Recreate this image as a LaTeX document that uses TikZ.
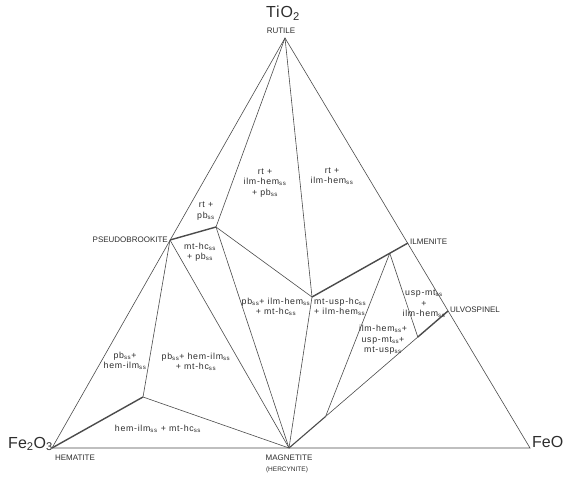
\documentclass[tikz,border=0pt]{standalone}
\usepackage{fontspec}
\setmainfont{Liberation Sans}
\newfontfamily\widefont[LetterSpace=8]{Liberation Sans}
\newfontfamily\oxfont[LetterSpace=6]{Liberation Sans}
\usetikzlibrary{calc}
\definecolor{linec}{RGB}{75,75,75}
\definecolor{textc}{RGB}{45,45,45}
\newcommand{\sS}{\textsubscript{ss}}
\begin{document}
\begin{tikzpicture}[x=1pt,y=-1pt,
  thinl/.style={draw=linec, line width=0.6pt},
  thickl/.style={draw=linec, line width=1.4pt},
  caplabel/.style={font=\fontsize{8}{9}\selectfont, text=textc, inner sep=0pt},
  smallcap/.style={font=\fontsize{6.5}{7}\selectfont, text=textc, inner sep=0pt},
  region/.style={font=\widefont\fontsize{8.8}{10.5}\selectfont, align=center, text=textc, inner sep=0pt},
  oxide/.style={font=\fontsize{16}{18}\selectfont, text=textc, inner sep=0pt}]
\useasboundingbox (0,0) rectangle (564,478);
% vertices and invariant points
\coordinate (T) at (285,38);
\coordinate (A) at (52,448);
\coordinate (F) at (530,448);
\coordinate (Mg) at (289,448);
\coordinate (Pb) at (170,240);
\coordinate (P1) at (216,227);
\coordinate (M) at (312,297);
\coordinate (Il) at (408,243);
\coordinate (Q) at ($(M)!0.81!(Il)$);
\coordinate (Usp) at (448,311);
\coordinate (S) at ($(Mg)!0.81!(Usp)$);
\coordinate (R) at ($(Mg)!0.23!(Usp)$);
\coordinate (H) at (143,397);
% main triangle
\draw[thinl] (A) -- (T) -- (F) -- cycle;
% tie lines
\draw[thinl] (T) -- (P1);
\draw[thinl] (T) -- (M);
\draw[thickl] (Pb) -- (P1);
\draw[thinl] (P1) -- (M);
\draw[thickl] (M) -- (Il);
\draw[thinl] (P1) -- (Mg);
\draw[thinl] (Pb) -- (Mg);
\draw[thinl] (Pb) -- (H);
\draw[thinl] (M) -- (Mg);
\draw[thickl] (A) -- (H);
\draw[thinl] (H) -- (Mg);
\draw[thinl] (Q) -- (R);
\draw[thinl] (Q) -- (S);
\draw[thinl] (R) -- (S);
\draw[line width=1.1pt, draw=linec] (Mg) -- (R);
\draw[thickl] (S) -- (Usp);
% corner labels
\node[oxide, font=\oxfont\fontsize{16}{18}\selectfont] (tio2) at (283,13) {TiO\textsubscript{2}};
\node[caplabel] (rutile) at (281,31) {RUTILE};
\node[oxide, anchor=east] (fe2o3) at (53,444) {Fe\textsubscript{2}O\textsubscript{3}};
\node[caplabel] (hematite) at (75,458) {HEMATITE};
\node[oxide, anchor=west] (feo) at (532,442) {FeO};
\node[caplabel] (magnetite) at (289,458) {MAGNETITE};
\node[smallcap] (hercynite) at (287,470) {(HERCYNITE)};
\node[caplabel, anchor=east] (pseudo) at (168,240) {PSEUDOBROOKITE};
\node[caplabel, anchor=west] (ilmenite) at (410,242) {ILMENITE};
\node[caplabel, anchor=west] (ulvo) at (450,310) {ULVOSPINEL};
% field labels
\node[region] (f1) at (206,211) {rt +\\pb\sS};
\node[region] (f2) at (265,183) {rt +\\ilm-hem\sS\\+ pb\sS};
\node[region] (f3) at (332,176) {rt +\\ilm-hem\sS};
\node[region] (f4) at (200,252) {mt-hc\sS\\+ pb\sS};
\node[region] (f5) at (125,361) {pb\sS +\\hem-ilm\sS};
\node[region] (f6) at (196,362) {pb\sS + hem-ilm\sS\\+ mt-hc\sS};
\node[region] (f7) at (158,429) {hem-ilm\sS{} + mt-hc\sS};
\node[region] (f8) at (276,307) {pb\sS + ilm-hem\sS\\+ mt-hc\sS};
\node[region, align=left, anchor=west] (f9) at (314,307) {mt-usp-hc\sS\\+ ilm-hem\sS};
\node[region] (f10) at (424,304) {usp-mt\sS\\+\\ilm-hem\sS};
\node[region] (f11) at (383,340) {ilm-hem\sS +\\usp-mt\sS +\\mt-usp\sS};
\end{tikzpicture}
\end{document}
